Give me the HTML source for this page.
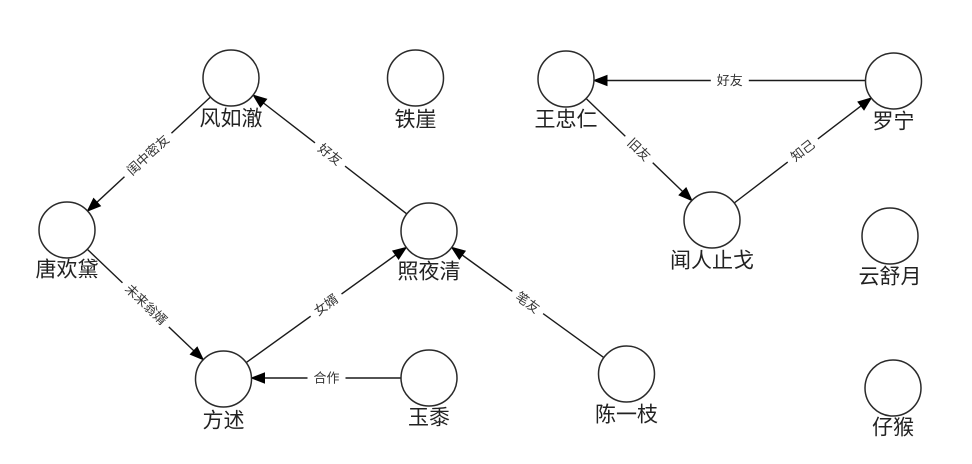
<!DOCTYPE html>
<html><head><meta charset="utf-8"><style>
html,body{margin:0;padding:0;background:#fff;}
svg{display:block;}
.n{fill:#fff;stroke:#2a2a2a;stroke-width:1.5;}
.e{stroke:#1a1a1a;stroke-width:1.4;fill:none;}
.a{fill:#000;stroke:#000;stroke-width:1;}
.t{font-family:"Liberation Sans","Noto Sans CJK SC",sans-serif;font-size:21px;fill:#222;text-anchor:middle;dominant-baseline:central;}
.l{font-family:"Liberation Sans","Noto Sans CJK SC",sans-serif;font-size:13px;fill:#333;text-anchor:middle;dominant-baseline:central;}
</style></head><body>
<svg width="972" height="464" viewBox="0 0 972 464" xmlns="http://www.w3.org/2000/svg">
<rect x="0" y="0" width="972" height="464" fill="#fff"/>

<!-- edges -->
<line class="e" x1="210.5" y1="97" x2="97" y2="202.2"/>
<polygon class="a" points="87.5,211 93.6,198.5 100.4,205.9"/>

<line class="e" x1="406.8" y1="213.9" x2="263.5" y2="103"/>
<polygon class="a" points="253.2,95.1 266.6,99.1 260.4,107"/>

<line class="e" x1="87.3" y1="249.3" x2="193.8" y2="350.7"/>
<polygon class="a" points="203.2,359.7 190.4,354.3 197.2,347.1"/>

<line class="e" x1="246.2" y1="362.6" x2="395.7" y2="255"/>
<polygon class="a" points="406.3,247.4 398.6,259.1 392.8,250.9"/>

<line class="e" x1="401" y1="378" x2="264.5" y2="378"/>
<polygon class="a" points="251.5,378 264.5,373 264.5,383"/>

<line class="e" x1="603.8" y1="357.6" x2="462.2" y2="255"/>
<polygon class="a" points="451.7,247.4 465.2,251 459.3,259.1"/>

<line class="e" x1="865.5" y1="80.5" x2="607" y2="80.5"/>
<polygon class="a" points="594,80.5 607,75.5 607,85.5"/>

<line class="e" x1="586.1" y1="98.5" x2="682.6" y2="191.5"/>
<polygon class="a" points="691.9,200.5 679.1,195.1 686.1,187.9"/>

<line class="e" x1="734.2" y1="203" x2="861" y2="105.9"/>
<polygon class="a" points="871.3,98 864,109.9 858,101.9"/>

<!-- edge labels -->
<g transform="translate(148,155) rotate(-42.8)"><rect x="-32" y="-8" width="64" height="16" fill="#fff"/><text class="l" x="0" y="0">闺中密友</text></g>
<g transform="translate(330,154.5) rotate(37.7)"><rect x="-19" y="-8" width="38" height="16" fill="#fff"/><text class="l" x="0" y="0">好友</text></g>
<g transform="translate(146,304.5) rotate(43.6)"><rect x="-32" y="-8" width="64" height="16" fill="#fff"/><text class="l" x="0" y="0">未来翁婿</text></g>
<g transform="translate(326,305) rotate(-35.8)"><rect x="-19" y="-8" width="38" height="16" fill="#fff"/><text class="l" x="0" y="0">女婿</text></g>
<g transform="translate(326.5,378)"><rect x="-19" y="-8" width="38" height="16" fill="#fff"/><text class="l" x="0" y="0">合作</text></g>
<g transform="translate(527.7,302.5) rotate(35.9)"><rect x="-19" y="-8" width="38" height="16" fill="#fff"/><text class="l" x="0" y="0">笔友</text></g>
<g transform="translate(729.8,80.5)"><rect x="-19" y="-8" width="38" height="16" fill="#fff"/><text class="l" x="0" y="0">好友</text></g>
<g transform="translate(639,149.5) rotate(44)"><rect x="-19" y="-8" width="38" height="16" fill="#fff"/><text class="l" x="0" y="0">旧友</text></g>
<g transform="translate(802.8,150.5) rotate(-37.4)"><rect x="-19" y="-8" width="38" height="16" fill="#fff"/><text class="l" x="0" y="0">知己</text></g>

<!-- nodes -->
<circle class="n" cx="231" cy="78" r="28"/><text class="t" x="231" y="119">风如澈</text>
<circle class="n" cx="415.5" cy="78" r="28"/><text class="t" x="415.5" y="120">铁崖</text>
<circle class="n" cx="67" cy="230" r="28"/><text class="t" x="67" y="270">唐欢黛</text>
<circle class="n" cx="429" cy="231" r="28"/><text class="t" x="429" y="272">照夜清</text>
<circle class="n" cx="223.5" cy="379" r="28"/><text class="t" x="223.5" y="421">方述</text>
<circle class="n" cx="429" cy="378" r="28"/><text class="t" x="429" y="418">玉黍</text>
<circle class="n" cx="566" cy="79" r="28"/><text class="t" x="566" y="120">王忠仁</text>
<circle class="n" cx="893.5" cy="81" r="28"/><text class="t" x="893.5" y="122">罗宁</text>
<circle class="n" cx="712" cy="220" r="28"/><text class="t" x="712" y="261">闻人止戈</text>
<circle class="n" cx="890" cy="236" r="28"/><text class="t" x="890" y="277">云舒月</text>
<circle class="n" cx="626.5" cy="374" r="28"/><text class="t" x="626.5" y="415">陈一枝</text>
<circle class="n" cx="893" cy="388" r="28"/><text class="t" x="893" y="428">仔猴</text>
</svg>
</body></html>
